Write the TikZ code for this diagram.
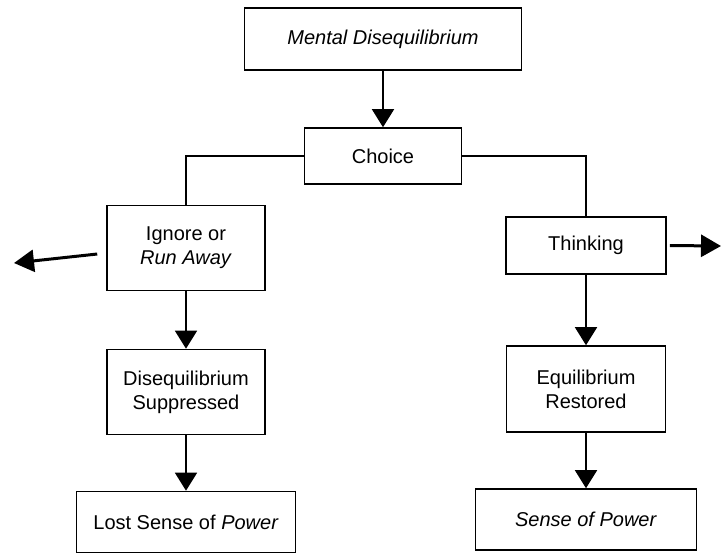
\documentclass[tikz,border=0pt]{standalone}
\usepackage{fontspec}
\setmainfont{Liberation Sans}
\usetikzlibrary{arrows.meta}

\begin{document}
\begin{tikzpicture}[x=0.5pt,y=-0.5pt,thick]
    % `stage' is used for every box of the chart.
    % `flow' is used for the arrows going down.
    % `escape' is used for the two arrows leaving sideways.
    \tikzstyle{stage} = [draw,fill=white,align=center,inner sep=0pt,font=\fontsize{10}{12}\selectfont]
    \tikzstyle{flow} = [-{Triangle[width=11pt,length=9pt]}]
    \tikzstyle{escape} = [line width=1.5pt,-{Triangle[width=11pt,length=10pt]}]
    %
    \fill[white] (0,0) rectangle (722,554);
    \useasboundingbox (0,0) rectangle (722,554);
    % Top of the chart.
    \node[stage,minimum width=138.5pt,minimum height=31pt] (mental) at (383,39) {\textit{Mental Disequilibrium}};
    \node[stage,minimum width=78.5pt,minimum height=28pt] (choice) at (383,156) {Choice};
    % Left branch.
    \node[stage,minimum width=79pt,minimum height=42.5pt] (ignore) at (186,248) {Ignore or\\\textit{Run Away}};
    \node[stage,minimum width=79pt,minimum height=42.5pt] (suppressed) at (186,392) {Disequilibrium\\Suppressed};
    \node[stage,minimum width=109.5pt,minimum height=30.5pt] (lost) at (186,522) {Lost Sense of \textit{Power}};
    % Right branch.
    \node[stage,minimum width=80pt,minimum height=28.5pt] (thinking) at (586,245.5) {Thinking};
    \node[stage,minimum width=79.5pt,minimum height=43pt] (restored) at (586,389) {Equilibrium\\Restored};
    \node[stage,minimum width=110.5pt,minimum height=30.5pt] (power) at (586,519.5) {\textit{Sense of Power}};
    % Free ends of the side arrows.
    \coordinate (runoff) at (14,263);
    \coordinate (thinkoff) at (721,246);
    %
    \draw[flow] (mental) -- (choice);
    \draw (choice.west) -| (ignore.north);
    \draw (choice.east) -| (thinking.north);
    \draw[flow] (ignore) -- (suppressed);
    \draw[flow] (suppressed) -- (lost);
    \draw[flow] (thinking) -- (restored);
    \draw[flow] (restored) -- (power);
    \draw[escape] ([xshift=-4.5pt,yshift=-3pt]ignore.west) -- (runoff);
    \draw[escape] ([xshift=1.5pt]thinking.east) -- (thinkoff);
\end{tikzpicture}
\end{document}
